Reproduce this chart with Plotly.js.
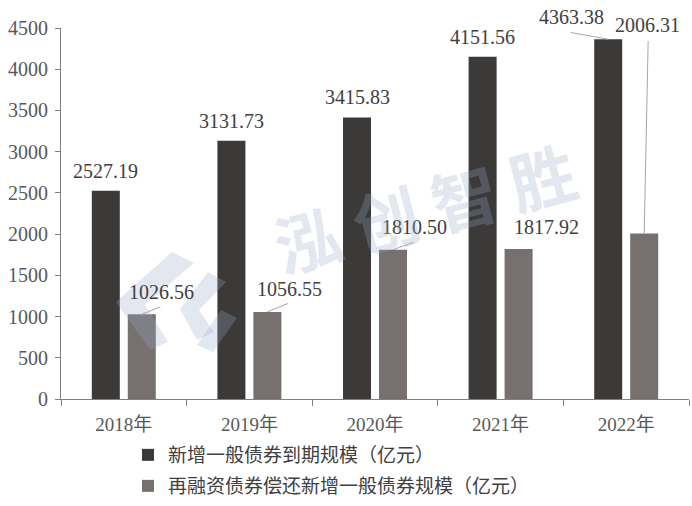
<!DOCTYPE html>
<html>
<head>
<meta charset="utf-8">
<script src="https://cdn.plot.ly/plotly-3.0.1.min.js"></script>
<style>
  html, body { margin: 0; padding: 0; background: #ffffff; }
  #chart { width: 692px; height: 506px; }
</style>
</head>
<body>
<div id="chart"></div>
<script>
// ---- data ----
var categories = ['2018年', '2019年', '2020年', '2021年', '2022年'];
var seriesNames = ['新增一般债券到期规模（亿元）', '再融资债券偿还新增一般债券规模（亿元）'];
var maturing = [2527.19, 3131.73, 3415.83, 4151.56, 4363.38];
var refinancing = [1026.56, 1056.55, 1810.50, 1817.92, 2006.31];
var yTicks = [0, 500, 1000, 1500, 2000, 2500, 3000, 3500, 4000, 4500];

// ---- style ----
var darkColor = '#3b3a38';
var greyColor = '#76716f';
var textColor = '#404040';
var axisColor = '#808080';
var fontFamily = '"Liberation Serif", "Noto Sans CJK SC", serif';

var bargap = 0.427, bargroupgap = 0.222;
var slotOffset = (1 - bargap) / 4; // centre of each bar slot relative to category centre

var margin = {l: 61, r: 3, t: 28, b: 107, autoexpand: false};
var W = 692, H = 506;
var plotW = W - margin.l - margin.r, plotH = H - margin.t - margin.b;
function px(x) { return (x - margin.l) / plotW; }
function py(y) { return (H - margin.b - y) / plotH; }

var traces = [
  {type: 'bar', name: seriesNames[0], x: categories, y: maturing,
   marker: {color: darkColor}, hoverinfo: 'none', legend: 'legend'},
  {type: 'bar', name: seriesNames[1], x: categories, y: refinancing,
   marker: {color: greyColor}, hoverinfo: 'none', legend: 'legend2'}
];

// label placement styles (pixel offsets from bar top)
var darkLabelStyle = [
  {dx: 0, dy: 20}, {dx: 0, dy: 20}, {dx: 0, dy: 20}, {dx: 0, dy: 20},
  {dx: -37, dy: 22, line: {ax: -39, ay: -7}}
];
var greyLabelStyle = [
  {dx: 20, dy: 22, line: {ax: 20, ay: -8}},
  {dx: 22, dy: 23, line: {ax: 22, ay: -9}},
  {dx: 22, dy: 23, line: {ax: 22, ay: -8}},
  {dx: 28, dy: 22},
  {dx: 3, dy: 209, line: {ax: 4, ay: -194}}
];

var annotations = [];
function addLabels(values, offset, styles) {
  values.forEach(function (v, i) {
    var s = styles[i];
    annotations.push({
      x: i + offset, y: v, xref: 'x', yref: 'y',
      text: v.toFixed(2), showarrow: false,
      xanchor: 'center', yanchor: 'middle',
      xshift: s.dx, yshift: s.dy,
      font: {family: fontFamily, size: 20, color: textColor}
    });
    if (s.line) {
      annotations.push({
        x: i + offset, y: v, xref: 'x', yref: 'y',
        text: '', showarrow: true, arrowhead: 0, arrowwidth: 1,
        arrowcolor: '#a6a6a6', ax: s.line.ax, ay: s.line.ay, standoff: 0
      });
    }
  });
}
addLabels(maturing, -slotOffset, darkLabelStyle);
addLabels(refinancing, slotOffset, greyLabelStyle);

// watermark
var wmColor = 'rgba(150,165,200,0.27)';
annotations.push({
  xref: 'paper', yref: 'paper', x: px(424), y: py(206),
  text: '<b>泓&nbsp;创&nbsp;智&nbsp;胜</b>', showarrow: false, textangle: -15,
  font: {family: '"Noto Sans CJK SC", sans-serif', size: 66, color: wmColor},
  xanchor: 'center', yanchor: 'middle'
});

function poly(pts) {
  return 'M' + pts.map(function (p) { return px(p[0]) + ',' + py(p[1]); }).join('L') + 'Z';
}
var logoShapes = [
  [[116, 302], [172, 252], [194, 263], [145, 305], [168, 342], [150, 350]],
  [[208, 272], [226, 282], [199, 310], [214, 332], [197, 340], [180, 309]],
  [[221, 310], [237, 318], [213, 352], [197, 345]]
].map(function (pts) {
  return {type: 'path', xref: 'paper', yref: 'paper', path: poly(pts),
          fillcolor: wmColor, line: {width: 0}, layer: 'above'};
});

var tickFont = {family: fontFamily, size: 20, color: '#595959'};

var layout = {
  width: W, height: H,
  margin: margin,
  paper_bgcolor: '#ffffff', plot_bgcolor: '#ffffff',
  barmode: 'group', bargap: bargap, bargroupgap: bargroupgap,
  font: {family: fontFamily, size: 18, color: '#595959'},
  showlegend: true,
  xaxis: {
    type: 'category', showgrid: false, zeroline: false,
    showline: true, linecolor: axisColor, linewidth: 1,
    ticks: 'outside', tickson: 'boundaries', ticklen: 6, tickcolor: axisColor,
    tickfont: {family: fontFamily, size: 19, color: '#595959'},
    ticklabelstandoff: 8,
    fixedrange: true
  },
  yaxis: {
    range: [0, 4500], tickvals: yTicks, ticktext: yTicks.map(String),
    showgrid: false, zeroline: false,
    showline: true, linecolor: axisColor, linewidth: 1,
    ticks: 'outside', ticklen: 5, tickcolor: axisColor,
    tickfont: tickFont,
    ticklabelstandoff: 3,
    fixedrange: true
  },
  legend: {
    x: px(128), y: py(436), xanchor: 'left', yanchor: 'top',
    font: {family: fontFamily, size: 19, color: textColor},
    bgcolor: 'rgba(0,0,0,0)', itemwidth: 30
  },
  legend2: {
    x: px(128), y: py(467), xanchor: 'left', yanchor: 'top',
    font: {family: fontFamily, size: 19, color: textColor},
    bgcolor: 'rgba(0,0,0,0)', itemwidth: 30
  },
  annotations: annotations,
  shapes: logoShapes
};

Plotly.newPlot('chart', traces, layout, {displayModeBar: false, staticPlot: true});
</script>
</body>
</html>
